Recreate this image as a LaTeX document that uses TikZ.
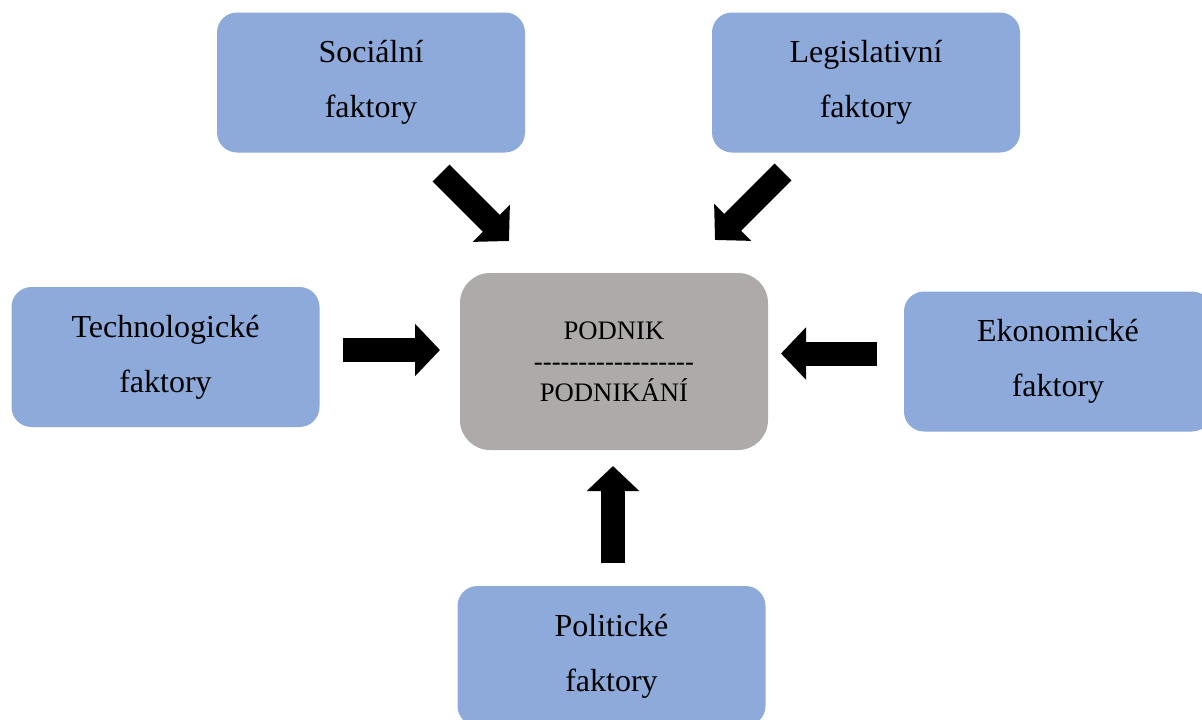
\documentclass[tikz,border=0pt]{standalone}
\usepackage{fontspec}
\setmainfont{Liberation Serif}
\usetikzlibrary{arrows.meta}
\definecolor{boxblue}{HTML}{8EAADB}
\definecolor{boxgrey}{HTML}{AEAAAA}
\newcommand{\hh}{-\kern0pt}
\begin{document}
\begin{tikzpicture}[x=1pt,y=-1pt,
  factor/.style={fill=boxblue, rounded corners=20pt, minimum width=308pt, minimum height=140pt,
    inner sep=0pt, align=center, font=\fontsize{32}{55}\selectfont},
  core/.style={fill=boxgrey, rounded corners=30pt, minimum width=308pt, minimum height=177pt,
    inner sep=0pt, align=center, font=\fontsize{26.7}{31}\selectfont},
  bigarrow/.style={line width=24pt, -{Triangle[length=25pt,width=51pt]}}]
\useasboundingbox (0,0) rectangle (1202,720);
\clip (0,0) rectangle (1202,720);
\fill[white] (0,0) rectangle (1202,720);
\node[factor] (soc) at (371,82.5) {Sociální\\faktory};
\node[factor] (leg) at (866,82.5) {Legislativní\\faktory};
\node[factor] (tech) at (165.5,357) {Technologické\\faktory};
\node[factor] (eko) at (1058,361.5) {Ekonomické\\faktory};
\node[factor] (pol) at (611.5,656) {Politické\\faktory};
\node[core] (pod) at (614,361.5) {PODNIK\\\hh\hh\hh\hh\hh\hh\hh\hh\hh\hh\hh\hh\hh\hh\hh\hh\hh\hh\\PODNIKÁNÍ};
\coordinate (a1s) at (441,173); \coordinate (a1e) at (509,241);
\coordinate (a2s) at (783,172); \coordinate (a2e) at (715,240);
\coordinate (a3s) at (343,350); \coordinate (a3e) at (440,350);
\coordinate (a4s) at (877,353.5); \coordinate (a4e) at (781,353.5);
\coordinate (a5s) at (613,563); \coordinate (a5e) at (613,466);
\draw[bigarrow] (a1s) -- (a1e);
\draw[bigarrow] (a2s) -- (a2e);
\draw[bigarrow] (a3s) -- (a3e);
\draw[bigarrow] (a4s) -- (a4e);
\draw[bigarrow] (a5s) -- (a5e);
\end{tikzpicture}
\end{document}
